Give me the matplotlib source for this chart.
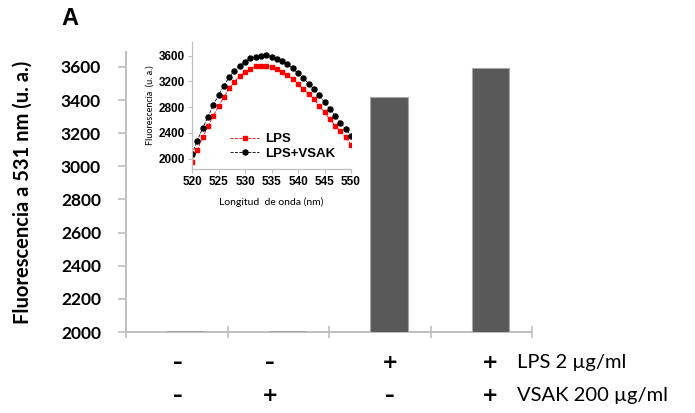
import matplotlib
matplotlib.use('Agg')
import matplotlib.pyplot as plt
import numpy as np

# --- data ---
groups = ['1', '2', '3', '4']
bar_values = [2005, 2005, 3418, 3596]
lps_signs = ['\u2013', '\u2013', '+', '+']
vsak_signs = ['\u2013', '+', '\u2013', '+']
row_labels = ['LPS 2 \u00b5g/ml', 'VSAK 200 \u00b5g/ml']

wavelength = np.arange(520, 551)
lps_spec = [1943, 2139, 2330, 2500, 2666, 2810, 2955, 3089, 3192, 3285, 3342,
            3393, 3430, 3445, 3440, 3425, 3388, 3347, 3295, 3233, 3161,
            3079, 3006, 2924, 2821, 2717, 2614, 2511, 2423, 2335, 2217]
lps_vsak_spec = [2077, 2279, 2475, 2645, 2831, 2986, 3130, 3264, 3362, 3445, 3507,
                 3559, 3584, 3600, 3605, 3584, 3548, 3517, 3466, 3399, 3326,
                 3249, 3166, 3079, 2981, 2877, 2769, 2666, 2557, 2459, 2356]

# --- style ---
BAR_COLOR = '#595959'
AXIS_COLOR = '#bfbfbf'
MAIN_FONT = 'Lato'
INSET_FONT = 'Liberation Sans'

fig = plt.figure(figsize=(6.95, 4.13), dpi=100)

# main bar chart
ax = fig.add_axes([0.1813, 0.1961, 0.5842, 0.678])
x = np.arange(len(groups))
ax.bar(x + 0.09, bar_values, width=0.37, color=BAR_COLOR, edgecolor='#a6a6a6',
       linewidth=0.8, zorder=3)
ax.set_xlim(-0.5, 3.5)
ax.set_ylim(2000, 3690)
ax.set_yticks(np.arange(2000, 3601, 200))
ax.set_yticklabels([str(v) for v in range(2000, 3601, 200)],
                   fontfamily=MAIN_FONT, fontweight='bold', fontsize=12.5)
ax.set_xticks(np.arange(-0.5, 3.6, 1.0))
ax.set_xticklabels([])
ax.tick_params(axis='x', direction='inout', length=8, color=AXIS_COLOR, width=1.2)
ax.tick_params(axis='y', direction='out', length=6, color=AXIS_COLOR, width=1.2, pad=12)
for side in ['top', 'right']:
    ax.spines[side].set_visible(False)
for side in ['left', 'bottom']:
    ax.spines[side].set_color(AXIS_COLOR)
    ax.spines[side].set_linewidth(1.4)
ax.set_ylabel('Fluorescencia a 531 nm (u. a.)', fontfamily=MAIN_FONT,
              fontweight='bold', fontsize=14.5, labelpad=20)

# condition table under the bars
sign_x = [0.01, 0.92, 2.1, 3.09]
for xs, s1, s2 in zip(sign_x, lps_signs, vsak_signs):
    ax.text(xs, -0.11, s1, transform=ax.get_xaxis_transform(), ha='center',
            va='center', fontsize=14, fontweight='bold', fontfamily='DejaVu Sans')
    ax.text(xs, -0.225, s2, transform=ax.get_xaxis_transform(), ha='center',
            va='center', fontsize=14, fontweight='bold', fontfamily='DejaVu Sans')
for row, lab in enumerate(row_labels):
    ax.text(3.35, -0.11 - 0.115 * row, lab, transform=ax.get_xaxis_transform(),
            ha='left', va='center', fontsize=14.5, fontfamily=MAIN_FONT)

fig.text(0.101, 0.955, 'A', fontsize=17, fontweight='bold', fontfamily='Liberation Sans',
         ha='center', va='center')

# inset spectra
ins = fig.add_axes([0.2763, 0.5908, 0.2288, 0.3075])
ins.plot(wavelength, lps_spec, color='red', marker='s', markersize=3.4,
         linestyle='--', linewidth=0.6, label='LPS')
ins.plot(wavelength, lps_vsak_spec, color='black', marker='o', markersize=3.6,
         linestyle='--', linewidth=0.6, label='LPS+VSAK')
ins.set_xlim(520, 550)
ins.set_ylim(1840, 3810)
ins.set_xticks(np.arange(520, 551, 5))
ins.set_yticks(np.arange(2000, 3601, 400))
for lab in ins.get_xticklabels() + ins.get_yticklabels():
    lab.set_fontfamily(INSET_FONT)
    lab.set_fontweight('bold')
    lab.set_fontsize(8.5)
ins.tick_params(direction='out', length=3, color=AXIS_COLOR, width=0.8, pad=2)
ins.patch.set_alpha(0)
for side in ['top', 'right']:
    ins.spines[side].set_visible(False)
for side in ['left', 'bottom']:
    ins.spines[side].set_color(AXIS_COLOR)
    ins.spines[side].set_linewidth(0.9)
ins.set_xlabel('Longitud  de onda (nm)', fontfamily=MAIN_FONT, fontsize=7.5, labelpad=7)
ins.set_ylabel('Fluorescencia  (u. a.)', fontfamily=MAIN_FONT, fontsize=6.5, labelpad=3)
leg = ins.legend(loc='lower center', bbox_to_anchor=(0.57, -0.02), frameon=False,
                 prop={'family': INSET_FONT, 'weight': 'bold', 'size': 9.5},
                 handlelength=2.2, handletextpad=0.4, labelspacing=0.15)

fig.savefig('out.png', dpi=100)
